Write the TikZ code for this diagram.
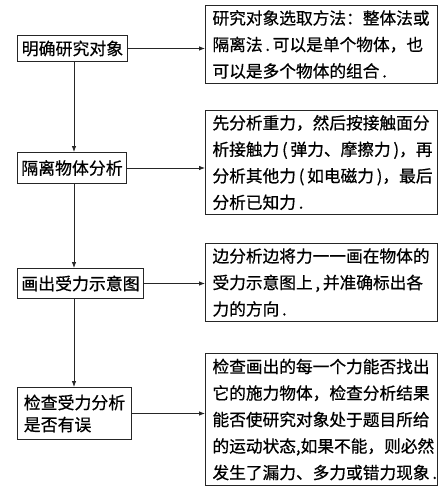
\documentclass[tikz,border=0pt]{standalone}
\usepackage{fontspec}
\setmainfont{Noto Sans CJK SC}[FakeBold=0.6]
\usetikzlibrary{arrows.meta}
\begin{document}
\begin{tikzpicture}[x=1pt,y=-1pt,
 lbox/.style={draw=black!85, line width=1pt, anchor=north west, inner sep=0pt, align=center, font=\fontsize{16.9}{22}\selectfont},
 rbox/.style={draw=black!85, line width=1pt, anchor=north west, inner xsep=7pt, inner ysep=0pt, text width=218pt, align=left, font=\fontsize{16.7}{26.5}\selectfont},
 conn/.style={draw=black!85, line width=0.8pt, -{Latex[length=6pt,width=4.5pt]}}]
\useasboundingbox[fill=white] (0,0) rectangle (445,496);
% left column
\node[lbox, minimum width=110pt, minimum height=26pt] (l1) at (17,35) {明确研究对象};
\node[lbox, minimum width=109pt, minimum height=31pt] (l2) at (17,152) {隔离物体分析};
\node[lbox, minimum width=126pt, minimum height=30pt] (l3) at (17,268) {画出受力示意图};
\node[lbox, minimum width=114pt, minimum height=52pt, align=left, inner xsep=5pt] (l4) at (17,387) {检查受力分析\\是否有误};
% right column
\node[rbox, minimum height=78pt] (r1) at (205,5) {研究对象选取方法：整体法或\\隔离法\,.\,可以是单个物体，也\\可以是多个物体的组合\,.};
\node[rbox, minimum height=104pt] (r2) at (205,110) {先分析重力，然后按接触面分\\析接触力\,(\,弹力、摩擦力\,)，再\\分析其他力\,(\,如电磁力\,)，最后\\分析已知力\,.};
\node[rbox, minimum height=78pt] (r3) at (205,243) {边分析边将力一一画在物体的\\受力示意图上\,,\,并准确标出各\\力的方向\,.};
\node[rbox, minimum height=132pt] (r4) at (205,353) {检查画出的每一个力能否找出\\它的施力物体，检查分析结果\\能否使研究对象处于题目所给\\的运动状态,如果不能，则必然\\发生了漏力、多力或错力现象\,.};
% connectors
\coordinate (vx) at (74,0);
\draw[conn] (vx |- l1.south) -- (vx |- l2.north);
\draw[conn] (vx |- l2.south) -- (vx |- l3.north);
\draw[conn] (vx |- l3.south) -- (vx |- l4.north);
\draw[conn] (l1.east) -- (l1.east -| r1.west);
\draw[conn] (l2.east) -- (l2.east -| r2.west);
\draw[conn] (l3.east) -- (l3.east -| r3.west);
\draw[conn] (l4.east) -- (l4.east -| r4.west);
\end{tikzpicture}
\end{document}
